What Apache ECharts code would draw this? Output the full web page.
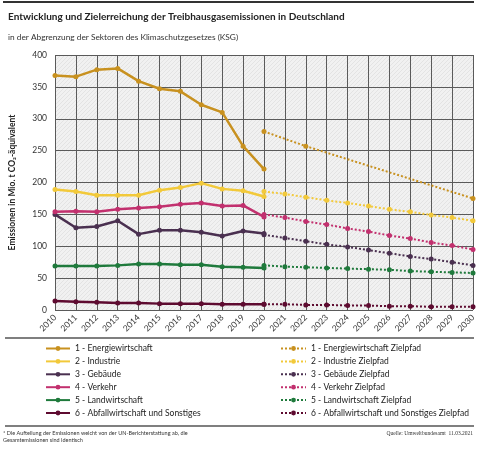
<!DOCTYPE html>
<html><head><meta charset="utf-8">
<script src="https://cdn.jsdelivr.net/npm/echarts@6/dist/echarts.min.js"></script>
<style>html,body{margin:0;padding:0;background:#fff}#c{width:482px;height:450px}</style>
</head><body><div id="c"></div>
<script>
var years = ['2010','2011','2012','2013','2014','2015','2016','2017','2018','2019','2020','2021','2022','2023','2024','2025','2026','2027','2028','2029','2030'];
var yTicks = [0,50,100,150,200,250,300,350,400];
var energie = [368,366,377,379,359,347,343,322,310,257,221];
var industrie = [189,186,180,180,180,188,192,199,190,187,178];
var gebaeude = [150,129,131,140,119,125,125,122,116,124,120];
var verkehr = [154,155,154,158,160,162,166,168,163,164,146];
var landwirtschaft = [69,69,69,70,72,72,71,71,68,67,66];
var abfall = [14,13,12,11,11,10,10,10,9,9,9];
var energieZiel = [280,null,257,null,null,null,null,null,null,null,175];
var industrieZiel = [186,182,177,172,168,163,158,154,149,145,140];
var gebaeudeZiel = [118,113,108,103,99,94,89,84,80,75,70];
var verkehrZiel = [150,145,139,134,128,123,117,112,106,101,95];
var landwirtschaftZiel = [70,68,67,66,65,64,63,61,60,59,58];
var abfallZiel = [9,9,8,8,7,7,6,6,5,5,5];

var names = ['1 - Energiewirtschaft','2 - Industrie','3 - Gebäude','4 - Verkehr','5 - Landwirtschaft','6 - Abfallwirtschaft und Sonstiges'];
var colors = ['#C8911F','#F2C93A','#4A3050','#C2306E','#1F7A3C','#5E0B30'];
var actual = [energie,industrie,gebaeude,verkehr,landwirtschaft,abfall];
var targets = [energieZiel,industrieZiel,gebaeudeZiel,verkehrZiel,landwirtschaftZiel,abfallZiel];

function pad(arr, before, after){ var o=[]; for(var i=0;i<before;i++)o.push(null); o=o.concat(arr); for(var j=0;j<after;j++)o.push(null); return o; }

var pc = document.createElement('canvas'); pc.width=4; pc.height=4;
var g = pc.getContext('2d'); g.fillStyle='#f1f1f1'; g.fillRect(0,0,4,4);
g.fillStyle='#e3e3e3'; g.fillRect(3,0,1,1); g.fillRect(2,1,1,1); g.fillRect(1,2,1,1); g.fillRect(0,3,1,1);

var series = [];
for (var k=0;k<6;k++){
  series.push({name:names[k],type:'line',data:pad(actual[k],0,10),symbol:'circle',symbolSize:5,
    lineStyle:{width:2.5,color:colors[k]},itemStyle:{color:colors[k]},z:3});
}
for (var k2=0;k2<6;k2++){
  series.push({name:names[k2]+' Zielpfad',type:'line',data:pad(targets[k2],10,0),connectNulls:true,symbol:'circle',symbolSize:5,
    lineStyle:{width:2,type:'dotted',color:colors[k2]},itemStyle:{color:colors[k2]},z:2});
}

var chart = echarts.init(document.getElementById('c'));
var ff = 'Lato, "Open Sans", sans-serif';
chart.setOption({
  animation:false,
  textStyle:{fontFamily:ff},
  grid:{left:54,right:9,top:55,bottom:140,show:true,backgroundColor:{image:pc,repeat:'repeat'},borderWidth:0},
  title:[
    {text:'Entwicklung und Zielerreichung der Treibhausgasemissionen in Deutschland',left:3,top:7,textStyle:{fontSize:10,fontWeight:'bold',color:'#222',fontFamily:ff}},
    {text:'in der Abgrenzung der Sektoren des Klimaschutzgesetzes (KSG)',left:3,top:28,textStyle:{fontSize:8.3,fontWeight:'normal',color:'#333',fontFamily:ff}}
  ],
  xAxis:{type:'category',data:years,boundaryGap:false,
    axisLine:{show:false},axisTick:{show:false},
    axisLabel:{rotate:45,fontSize:8.5,color:'#333',margin:6,interval:0},
    splitLine:{show:true,interval:0,lineStyle:{color:'#5a5a5a',width:1}}},
  yAxis:{type:'value',min:yTicks[0],max:yTicks[yTicks.length-1],interval:50,
    name:'Emissionen in Mio. t CO₂-äquivalent',nameLocation:'middle',nameGap:38,
    nameTextStyle:{fontSize:8.5,fontWeight:'bold',color:'#222'},
    axisLine:{show:false},axisTick:{show:false},
    axisLabel:{fontSize:8.5,color:'#333',margin:8},
    splitLine:{lineStyle:{color:'#5a5a5a',width:1}}},
  legend:[
    {data:names,orient:'vertical',left:40,top:339,itemWidth:24,itemHeight:6,itemGap:3.9,
     textStyle:{fontSize:8.5,color:'#222'}},
    {data:names.map(function(n){return n+' Zielpfad';}),orient:'vertical',left:275,top:339,itemWidth:25,itemHeight:6,itemGap:3.9,
     textStyle:{fontSize:8.5,color:'#222'}}
  ],
  graphic:[
    {type:'line',shape:{x1:3,y1:2,x2:474,y2:2},style:{stroke:'#333',lineWidth:2}},
    {type:'line',shape:{x1:5,y1:338,x2:474,y2:338},style:{stroke:'#555',lineWidth:1.5}},
    {type:'line',shape:{x1:5,y1:426,x2:474,y2:426},style:{stroke:'#555',lineWidth:1.5}},
    {type:'text',left:3,top:430,style:{text:'* Die Aufteilung der Emissionen weicht von der UN-Berichterstattung ab, die\nGesamtemissionen sind identisch',fontSize:5.5,lineHeight:7,fill:'#333',fontFamily:ff}},
    {type:'text',right:9,top:431,style:{text:'Quelle: Umweltbundesamt  11.03.2021',fontSize:5.5,fill:'#333',fontFamily:'"Liberation Serif", serif'}}
  ],
  series:series
});
</script></body></html>
